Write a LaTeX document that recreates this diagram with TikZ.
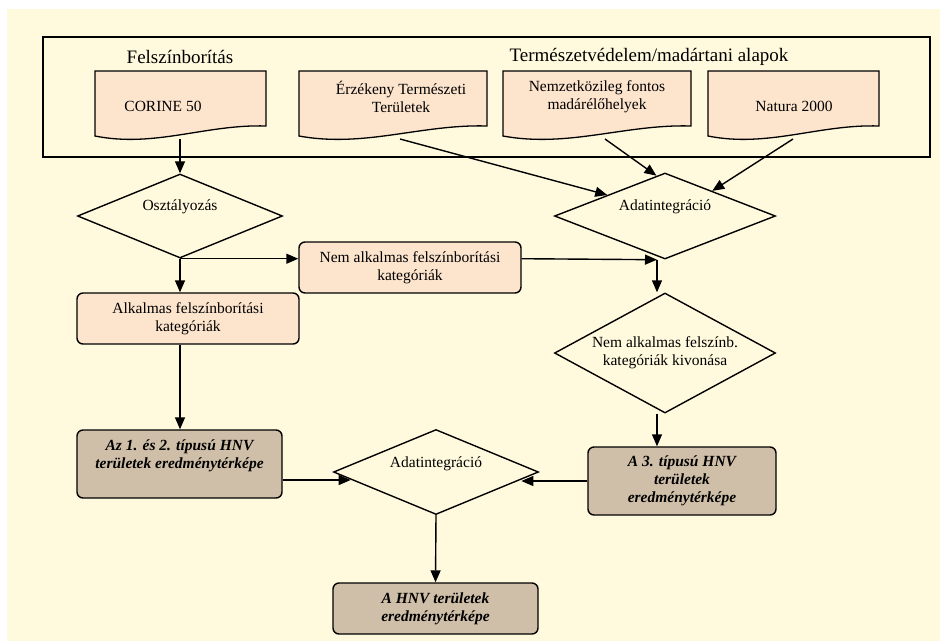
\documentclass[tikz,border=0pt]{standalone}
\usepackage{fontspec}
\setmainfont{Liberation Serif}
\usepackage{tikz}
\usetikzlibrary{shapes.geometric,arrows.meta}
\definecolor{bgyellow}{RGB}{255,250,221}
\definecolor{docpeach}{RGB}{252,228,205}
\definecolor{restan}{RGB}{208,191,168}
\newcommand{\txtsize}{\fontsize{15.5}{18}\selectfont}
\newcommand{\hdsize}{\fontsize{19}{22}\selectfont}
\newcommand{\resfont}{\txtsize\bfseries\itshape}

\begin{document}
\begin{tikzpicture}[x=1pt,y=-1pt,font=\txtsize,line width=1.4pt]
\tikzstyle{docu}=[draw,fill=docpeach,line width=1.3pt]
\tikzstyle{doctext}=[align=center,inner sep=0pt]
\tikzstyle{decision}=[diamond,draw,aspect=2,inner sep=0pt,align=center]
\tikzstyle{proc}=[rectangle,rounded corners=6pt,draw,fill=docpeach,align=center,inner sep=0pt]
\tikzstyle{result}=[proc,fill=restan,font=\resfont]
\tikzstyle{arr}=[-{Triangle[length=12pt,width=10pt]}]
\useasboundingbox (0,0) rectangle (940,641);
\fill[bgyellow] (7,9) rectangle (940,641);
\draw[line width=1.3pt] (43,37) rectangle (930,157);
\node (felsz) at (180,57) {\hdsize Felszínborítás};
\node (termv) at (649,57) {\hdsize Természetvédelem/madártani alapok};
\foreach \name/\xa/\wd/\out in {
	corine/95/171/85,
	erz/299/188/101,
	nemz/503/188/102,
	natura/708/171/85}
{
	\draw[docu] (\xa,71) -- ++(\wd,0) -- ++(0,55) .. controls +(-0.35*\wd,-2) and +(0.35*\wd,12) .. (\xa,136) -- cycle;
	\coordinate (\name-out) at (\xa+\out,139);
}
\node[doctext] (corine) at (163,106) {CORINE 50};
\node[doctext] (erz) at (401,97) {Érzékeny Természeti\\Területek};
\node[doctext] (nemz) at (597,97) {Nemzetközileg fontos\\madárélőhelyek};
\node[doctext] (natura) at (794,106) {Natura 2000};
\node[decision,minimum width=205pt,minimum height=84pt,label={[yshift=9pt]center:Osztályozás}] (osz) at (180,216) {};
\node[decision,minimum width=221pt,minimum height=86pt,label={[yshift=9pt]center:Adatintegráció}] (adat1) at (665,216) {};
\node[proc,minimum width=222pt,minimum height=51pt] (nemalk) at (410,267.5) {Nem alkalmas felszínborítási\\kategóriák};
\node[proc,minimum width=222pt,minimum height=51pt] (alk) at (188,318.5) {Alkalmas felszínborítási\\kategóriák};
\node[decision,minimum width=221pt,minimum height=120pt] (kivon) at (665,353) {Nem alkalmas felszínb.\\kategóriák kivonása};
\node[result,minimum width=205pt,minimum height=68pt,label={[yshift=8.5pt,align=center,font=\resfont]center:Az 1. és 2. típusú HNV\\területek eredménytérképe}] (hnv12) at (179.5,464) {};
\node[result,minimum width=188pt,minimum height=68pt] (hnv3) at (682,481) {A 3. típusú HNV\\területek\\eredménytérképe};
\node[decision,minimum width=205pt,minimum height=85pt,label={[yshift=8pt]center:Adatintegráció}] (adat2) at (436,472) {};
\node[result,minimum width=205pt,minimum height=51pt] (hnv) at (435.5,608.5) {A HNV területek\\eredménytérképe};
	\draw[arr] (corine-out) -- (osz.north);
	\draw[arr] (erz-out) -- (adat1.160);
	\draw[arr] (nemz-out) -- (adat1.102);
	\draw[arr] (natura-out) -- (adat1.28);
	\draw[arr] (osz.south) -- (osz.south |- alk.north);
	\draw[arr] (osz.south) -- (osz.south -| nemalk.west);
	\draw[arr] (nemalk.east |- osz.south) -- ([xshift=-8pt]adat1.south);
	\draw[arr] ([xshift=-8pt]adat1.south) -- ([xshift=-8pt]kivon.north);
	\draw[arr] (osz.south |- alk.south) -- (osz.south |- hnv12.north);
	\draw[arr] ([xshift=-8pt]kivon.south) -- ([xshift=-8pt]kivon.south |- hnv3.north);
	\draw[arr] ([yshift=-16pt]hnv12.east) -- ([yshift=-16pt]hnv12.east -| adat2.185);
	\draw[arr] (hnv3.west) -- (hnv3.west -| adat2.-5);
	\draw[arr] (adat2.south) -- (hnv.north);
\end{tikzpicture}
\end{document}
